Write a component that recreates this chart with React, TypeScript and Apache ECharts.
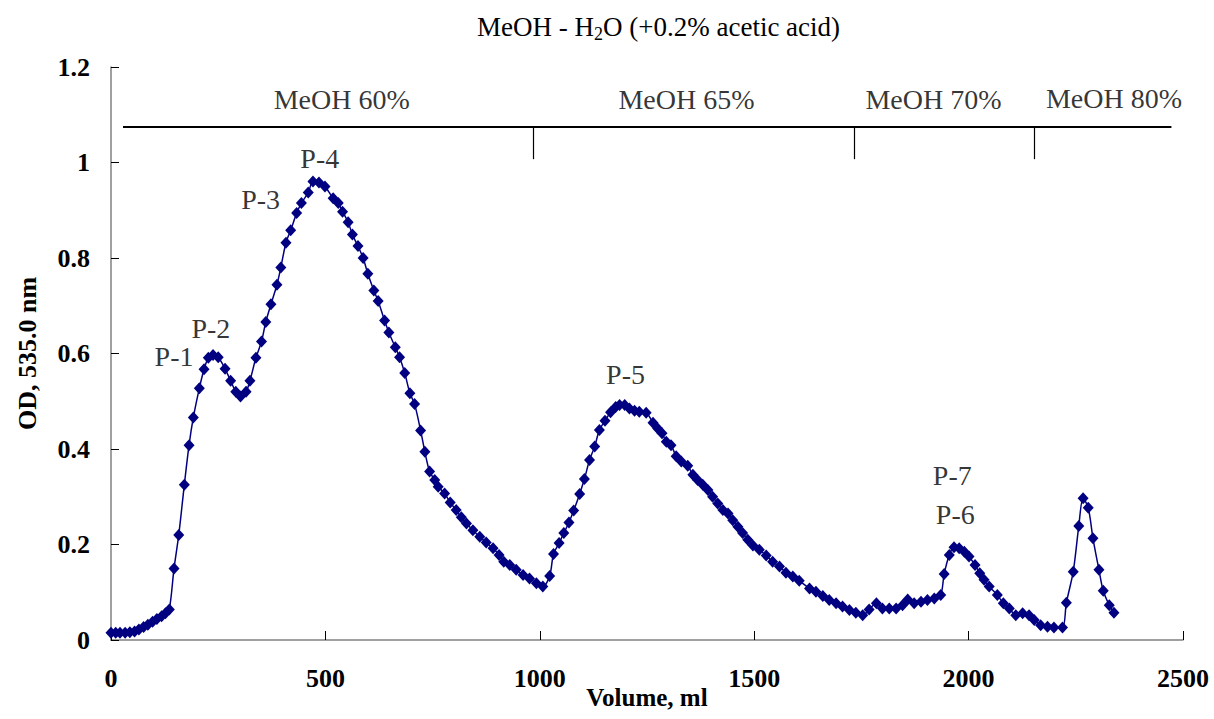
import React, { useEffect, useRef } from "react";
import * as echarts from "echarts";

const volume = [
  0, 11, 21, 33, 44, 55, 65, 76, 86, 97, 107, 118, 127, 136, 147, 158, 171, 182, 192, 206,
  217, 227, 238, 250, 266, 279, 291, 302, 315, 324, 338, 351, 361, 373, 387, 396, 408, 419, 433, 444,
  460, 471, 485, 499, 518, 530, 540, 553, 563, 576, 588, 599, 613, 623, 638, 648, 663, 673, 685, 697,
  708, 722, 732, 743, 755, 763, 778, 791, 805, 817, 829, 844, 860, 875, 891, 905, 916, 930, 945, 961,
  976, 992, 1007, 1023, 1032, 1045, 1056, 1068, 1079, 1093, 1104, 1116, 1128, 1139, 1152, 1165, 1177, 1186, 1198, 1209,
  1221, 1232, 1248, 1264, 1275, 1285, 1295, 1306, 1318, 1330, 1345, 1357, 1368, 1380, 1392, 1403, 1415, 1427, 1439, 1450,
  1462, 1473, 1485, 1497, 1512, 1528, 1543, 1559, 1574, 1590, 1605, 1629, 1644, 1660, 1675, 1691, 1706, 1722, 1737, 1753,
  1768, 1785, 1799, 1815, 1831, 1846, 1858, 1873, 1889, 1904, 1920, 1935, 1943, 1955, 1966, 1978, 1990, 2001, 2015, 2026,
  2036, 2048, 2067, 2081, 2095, 2110, 2126, 2141, 2153, 2168, 2184, 2199, 2219, 2228, 2244, 2257, 2267, 2279, 2290, 2304,
  2314, 2328, 2339,
];

const od = [
  0.015, 0.015, 0.015, 0.015, 0.016, 0.018, 0.022, 0.027, 0.032, 0.038, 0.044, 0.05, 0.056, 0.064, 0.15, 0.22, 0.325, 0.408, 0.466, 0.527,
  0.567, 0.591, 0.597, 0.592, 0.568, 0.543, 0.52, 0.51, 0.52, 0.543, 0.591, 0.625, 0.666, 0.703, 0.744, 0.78, 0.832, 0.858, 0.894, 0.915,
  0.937, 0.96, 0.958, 0.95, 0.925, 0.915, 0.897, 0.875, 0.849, 0.825, 0.8, 0.767, 0.732, 0.71, 0.669, 0.644, 0.613, 0.592, 0.559, 0.517,
  0.494, 0.439, 0.394, 0.353, 0.335, 0.321, 0.307, 0.288, 0.272, 0.257, 0.244, 0.23, 0.216, 0.204, 0.192, 0.178, 0.164, 0.157, 0.147, 0.136,
  0.129, 0.119, 0.112, 0.134, 0.18, 0.203, 0.224, 0.246, 0.271, 0.306, 0.337, 0.377, 0.405, 0.44, 0.459, 0.477, 0.488, 0.492, 0.492, 0.485,
  0.48, 0.478, 0.476, 0.455, 0.443, 0.433, 0.415, 0.408, 0.385, 0.374, 0.365, 0.346, 0.335, 0.325, 0.314, 0.3, 0.286, 0.272, 0.265, 0.251,
  0.237, 0.224, 0.21, 0.198, 0.189, 0.177, 0.164, 0.154, 0.141, 0.133, 0.124, 0.108, 0.101, 0.092, 0.084, 0.077, 0.07, 0.063, 0.057, 0.052,
  0.064, 0.077, 0.066, 0.066, 0.066, 0.073, 0.085, 0.077, 0.08, 0.084, 0.087, 0.094, 0.138, 0.178, 0.194, 0.192, 0.185, 0.175, 0.157, 0.14,
  0.126, 0.112, 0.094, 0.077, 0.066, 0.052, 0.056, 0.052, 0.042, 0.031, 0.028, 0.026, 0.026, 0.078, 0.143, 0.239, 0.297, 0.277, 0.213, 0.147,
  0.103, 0.073, 0.057,
];

const peakNames = ["P-1", "P-2", "P-3", "P-4", "P-5", "P-7", "P-6"];
const peakX = [147, 233, 349, 487, 1200, 1962, 1969];
const peakY = [0.593, 0.652, 0.922, 1.008, 0.557, 0.344, 0.262];

const stageNames = ["MeOH 60%", "MeOH 65%", "MeOH 70%", "MeOH 80%"];
const stageLabelX = [538, 1342, 1918, 2339];
const stageLabelY = [1.131, 1.131, 1.131, 1.133];
const stageLineY = 1.075;
const stageLineStart = 28;
const stageLineEnd = 2473;
const stageBounds = [984, 1734, 2154];
const stageTickBottom = 1.007;

const xTicks = { min: 0, max: 2500, interval: 500 };
const yTicks = { min: 0, max: 1.2, interval: 0.2 };

const SERIF = "'Liberation Serif', 'Times New Roman', serif";

export default function App() {
  const ref = useRef<HTMLDivElement>(null);

  useEffect(() => {
    document.body.style.margin = "0";
    if (!ref.current) return;
    const chart = echarts.init(ref.current, null, { renderer: "svg" });

    const mainData = volume.map((v, i) => [v, od[i]]);
    const peakData = peakNames.map((n, i) => ({ name: n, value: [peakX[i], peakY[i]] }));
    const stageData = stageNames.map((n, i) => ({ name: n, value: [stageLabelX[i], stageLabelY[i]] }));

    const markLines: any[] = [
      [
        { coord: [stageLineStart, stageLineY], lineStyle: { width: 2, color: "#000" } },
        { coord: [stageLineEnd, stageLineY] },
      ],
      ...stageBounds.map((b) => [
        { coord: [b, stageLineY], lineStyle: { width: 1.2, color: "#000" } },
        { coord: [b, stageTickBottom] },
      ]),
    ];

    const labelStyle = {
      show: true,
      position: "inside",
      formatter: "{b}",
      fontFamily: SERIF,
      fontSize: 28,
      fontWeight: "normal",
      color: "#000",
    };

    chart.setOption({
      animation: false,
      backgroundColor: "#fff",
      title: {
        text: "{a|MeOH - H}{s|2}{a|O (+0.2% acetic acid)}",
        left: 472,
        top: 8,
        textStyle: {
          fontWeight: "normal",
          rich: {
            a: { fontFamily: SERIF, fontSize: 27, fontWeight: "normal", color: "#000", verticalAlign: "top", lineHeight: 27 },
            s: {
              fontFamily: SERIF,
              fontSize: 18,
              fontWeight: "normal",
              color: "#000",
              verticalAlign: "top",
              lineHeight: 18,
              padding: [12, 0, 0, 0],
            },
          },
        },
      },
      grid: { left: 111, right: 31, top: 67, bottom: 79, containLabel: false, outerBoundsMode: "none" },
      xAxis: {
        type: "value",
        min: xTicks.min,
        max: xTicks.max,
        interval: xTicks.interval,
        name: "Volume, ml",
        nameLocation: "middle",
        nameGap: 45,
        nameMoveOverlap: false,
        nameTextStyle: { fontFamily: SERIF, fontSize: 25, fontWeight: "bold", color: "#000" },
        axisLine: { show: true, lineStyle: { color: "#808080", width: 1.5 } },
        axisTick: { show: true, inside: true, length: 9, lineStyle: { color: "#000", width: 1 } },
        axisLabel: {
          fontFamily: SERIF,
          fontSize: 26,
          fontWeight: "bold",
          color: "#000",
          margin: 25,
          formatter: (v: number) => String(v),
        },
        splitLine: { show: false },
      },
      yAxis: {
        type: "value",
        min: yTicks.min,
        max: yTicks.max,
        interval: yTicks.interval,
        name: "OD, 535.0 nm",
        nameLocation: "middle",
        nameGap: 71,
        nameRotate: 90,
        nameMoveOverlap: false,
        nameTextStyle: { fontFamily: SERIF, fontSize: 26, fontWeight: "bold", color: "#000" },
        axisLine: { show: true, lineStyle: { color: "#808080", width: 1.5 } },
        axisTick: { show: true, inside: true, length: 8, lineStyle: { color: "#000", width: 1 } },
        axisLabel: {
          fontFamily: SERIF,
          fontSize: 26,
          fontWeight: "bold",
          color: "#000",
          margin: 21,
          formatter: (v: number) => String(Math.round(v * 10) / 10),
        },
        splitLine: { show: false },
      },
      series: [
        {
          type: "line",
          data: mainData,
          smooth: 0.3,
          symbol: "diamond",
          symbolSize: [11, 12],
          showAllSymbol: true,
          itemStyle: { color: "#000080" },
          lineStyle: { color: "#000080", width: 1.5 },
          z: 3,
        },
        {
          type: "scatter",
          data: peakData,
          symbolSize: 1,
          itemStyle: { color: "rgba(0,0,0,0)" },
          label: labelStyle,
          silent: true,
          z: 4,
        },
        {
          type: "scatter",
          data: stageData,
          symbolSize: 1,
          itemStyle: { color: "rgba(0,0,0,0)" },
          label: labelStyle,
          silent: true,
          markLine: {
            silent: true,
            symbol: ["none", "none"],
            label: { show: false },
            lineStyle: { type: "solid", color: "#000" },
            data: markLines,
          },
          z: 4,
        },
      ],
    });

    return () => chart.dispose();
  }, []);

  return <div ref={ref} style={{ width: 1214, height: 719 }} />;
}
